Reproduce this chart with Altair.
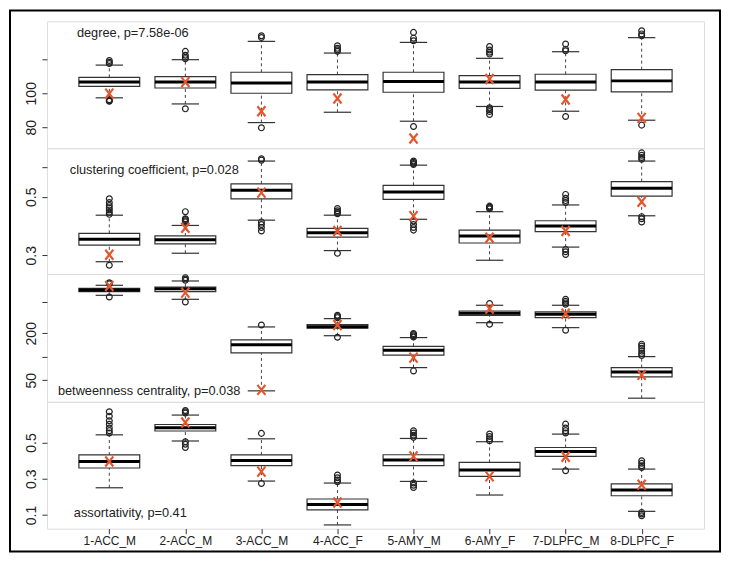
import json
import altair as alt
import pandas as pd

groups = ["1-ACC_M", "2-ACC_M", "3-ACC_M", "4-ACC_F", "5-AMY_M", "6-AMY_F", "7-DLPFC_M", "8-DLPFC_F"]

# ---- degree ----
deg_q1 = [104.1, 103.1, 100.0, 102.0, 100.6, 102.9, 101.8, 100.8]
deg_med = [106.6, 106.6, 106.0, 106.6, 107.0, 106.6, 106.6, 107.3]
deg_q3 = [109.4, 109.8, 112.4, 111.0, 112.4, 110.4, 111.2, 113.9]
deg_lo = [97.3, 93.7, 82.7, 88.8, 83.5, 92.2, 89.4, 84.1]
deg_hi = [116.6, 119.8, 130.6, 123.7, 130.0, 120.6, 124.5, 132.8]
deg_out = [[117.5, 118.3, 119.3, 96.2, 95.6, 95.3],
           [120.4, 121.2, 122.4, 124.7, 90.8],
           [132.9, 133.9, 79.6],
           [124.7, 125.6, 126.5, 128.0],
           [131.0, 132.5, 135.9, 80.4],
           [123.1, 124.2, 125.5, 127.6, 91.4, 90.3, 89.2, 87.5],
           [125.1, 126.0, 129.0, 86.3],
           [133.9, 135.0, 136.9, 81.2]]
deg_obs = [99.8, 106.6, 89.4, 96.9, 73.3, 108.4, 96.3, 85.5]

# ---- clustering coefficient ----
cc_q1 = [0.335, 0.339, 0.493, 0.362, 0.491, 0.342, 0.381, 0.502]
cc_med = [0.355, 0.353, 0.522, 0.377, 0.516, 0.366, 0.400, 0.529]
cc_q3 = [0.375, 0.366, 0.544, 0.392, 0.539, 0.386, 0.418, 0.552]
cc_lo = [0.278, 0.307, 0.420, 0.316, 0.423, 0.283, 0.328, 0.435]
cc_hi = [0.437, 0.402, 0.622, 0.437, 0.608, 0.449, 0.472, 0.622]
cc_out = [[0.440, 0.447, 0.455, 0.462, 0.470, 0.480, 0.493, 0.266],
          [0.414, 0.418, 0.422, 0.425, 0.449],
          [0.625, 0.630, 0.414, 0.405, 0.395, 0.383],
          [0.442, 0.447, 0.452, 0.460, 0.307],
          [0.610, 0.614, 0.618, 0.622, 0.417, 0.405, 0.395, 0.386],
          [0.459, 0.462, 0.465, 0.468],
          [0.480, 0.487, 0.495, 0.508, 0.320, 0.312, 0.303],
          [0.628, 0.634, 0.642, 0.650, 0.432, 0.425, 0.414]]
cc_obs = [0.302, 0.394, 0.514, 0.383, 0.434, 0.360, 0.383, 0.483]

# ---- betweenness centrality (log axis) ----
bc_q1 = [682, 682, 112, 232, 105, 340, 317, 55.1]
bc_med = [717, 745, 142, 243, 121, 361, 350, 63.9]
bc_q3 = [754, 784, 164, 258, 136, 386, 375, 72.5]
bc_lo = [613, 545, 36.5, 186, 72.5, 273, 236, 29.4]
bc_hi = [824, 936, 241, 308, 176, 457, 457, 100.3]
bc_out = [[860, 890, 583],
          [954, 990, 1032, 503],
          [255],
          [317, 328, 340, 178],
          [179, 186, 193, 198, 65.8],
          [480, 261],
          [470, 490, 515, 545, 219],
          [104, 110, 118, 128, 137, 145]]
bc_obs = [807, 663, 37.6, 255, 97.4, 413, 356, 58.4]

# ---- assortativity ----
as_q1 = [0.359, 0.563, 0.372, 0.128, 0.372, 0.313, 0.423, 0.206]
as_med = [0.395, 0.581, 0.401, 0.158, 0.403, 0.348, 0.450, 0.238]
as_q3 = [0.431, 0.599, 0.431, 0.188, 0.432, 0.390, 0.472, 0.271]
as_lo = [0.250, 0.508, 0.287, 0.045, 0.285, 0.210, 0.353, 0.120]
as_hi = [0.542, 0.651, 0.520, 0.276, 0.522, 0.504, 0.546, 0.353]
as_out = [[0.552, 0.565, 0.580, 0.600, 0.620, 0.645, 0.669],
          [0.662, 0.669, 0.676, 0.504, 0.490, 0.472],
          [0.550, 0.274],
          [0.283, 0.293, 0.305, 0.320],
          [0.528, 0.540, 0.552, 0.564, 0.276, 0.264, 0.252],
          [0.509, 0.520, 0.533, 0.546],
          [0.552, 0.565, 0.580, 0.601, 0.344],
          [0.362, 0.372, 0.385, 0.399, 0.114, 0.105, 0.096]]
as_obs = [0.395, 0.610, 0.339, 0.169, 0.423, 0.313, 0.421, 0.267]

titles = ["degree, p=7.58e-06", "clustering coefficient, p=0.028",
          "betweenness centrality, p=0.038", "assortativity, p=0.41"]

FONT = "Liberation Sans"
RED = "#e4572e"
W = 658


def panel(q1, med, q3, lo, hi, outs, obs, title, tx, ty, ydom, ytype, yticks,
          yhide, yfmt, height, bottom=False, frame=False):
    pos = list(range(1, len(groups) + 1))
    bdf = pd.DataFrame({"pos": pos, "q1": q1, "med": med, "q3": q3,
                        "lo": lo, "hi": hi, "obs": obs})
    odf = pd.DataFrame([{"pos": i + 1, "v": v} for i, vs in enumerate(outs) for v in vs])
    tdf = pd.DataFrame({"tx": [tx], "ty": [ty], "label": [title]})

    xscale = alt.Scale(domain=[0.18, 8.82], nice=False, zero=False)
    if bottom:
        xaxis = alt.Axis(values=pos, labelExpr=json.dumps(groups) + "[datum.value - 1]",
                         tickSize=5, labelFontSize=12, labelPadding=2, labelAngle=0,
                         domain=False, grid=False, title=None, labelFont=FONT,
                         labelColor="#222", tickColor="#333")
    else:
        xaxis = None
    yscale = alt.Scale(domain=ydom, type=ytype, nice=False, zero=False)
    yaxis = alt.Axis(values=yticks, format=yfmt,
                     labelExpr="indexof(" + json.dumps(yhide) + ", datum.value) >= 0 ? '' : datum.label",
                     labelAngle=270, labelAlign="center", labelBaseline="bottom",
                     labelFontSize=14, labelPadding=3, tickSize=5, domain=False,
                     grid=False, title=None, labelFont=FONT, labelColor="#222",
                     tickColor="#333")

    base = alt.Chart(bdf)
    X = lambda f: alt.X(f, scale=xscale, axis=xaxis)
    Y = lambda f: alt.Y(f, scale=yscale, axis=yaxis)

    whisk_up = base.mark_rule(color="#444", strokeDash=[3, 3], strokeWidth=1).encode(
        x=X("pos:Q"), y=Y("q3:Q"), y2="hi:Q")
    whisk_dn = base.mark_rule(color="#444", strokeDash=[3, 3], strokeWidth=1).encode(
        x=X("pos:Q"), y=Y("lo:Q"), y2="q1:Q")
    caps_hi = base.transform_calculate(a="datum.pos - 0.18", b="datum.pos + 0.18").mark_rule(
        color="#333", strokeWidth=1.2).encode(x=X("a:Q"), x2="b:Q", y=Y("hi:Q"))
    caps_lo = base.transform_calculate(a="datum.pos - 0.18", b="datum.pos + 0.18").mark_rule(
        color="#333", strokeWidth=1.2).encode(x=X("a:Q"), x2="b:Q", y=Y("lo:Q"))
    boxes = base.transform_calculate(a="datum.pos - 0.4", b="datum.pos + 0.4").mark_rect(
        fill="white", stroke="#333", strokeWidth=1.2).encode(
        x=X("a:Q"), x2="b:Q", y=Y("q1:Q"), y2="q3:Q")
    meds = base.transform_calculate(a="datum.pos - 0.4", b="datum.pos + 0.4").mark_rule(
        color="black", strokeWidth=3).encode(x=X("a:Q"), x2="b:Q", y=Y("med:Q"))
    outl = alt.Chart(odf).mark_point(shape="circle", size=34, filled=False,
                                     color="#222", strokeWidth=1.2, opacity=1).encode(
        x=X("pos:Q"), y=Y("v:Q"))
    crosses = base.mark_point(shape="M-0.8,-1L0.8,1M0.8,-1L-0.8,1", size=100, filled=False,
                              color=RED, strokeWidth=2.2, opacity=1).encode(
        x=X("pos:Q"), y=Y("obs:Q"))
    text = alt.Chart(tdf).mark_text(align="left", baseline="middle", fontSize=12.8,
                                    font=FONT, color="#222").encode(
        x=X("tx:Q"), y=Y("ty:Q"), text="label:N")

    layers = [whisk_up, whisk_dn, caps_hi, caps_lo, boxes, meds, outl, crosses, text]
    if frame:
        fr = alt.Chart(alt.Data(values=[{"k": 1}])).mark_rect(
            fill="transparent", stroke="black", strokeWidth=2).encode(
            x=alt.value(-37), x2=alt.value(W + 16), y=alt.value(-11), y2=alt.value(531))
        layers.append(fr)
    return alt.layer(*layers).properties(width=W, height=height)


p1 = panel(deg_q1, deg_med, deg_q3, deg_lo, deg_hi, deg_out, deg_obs, titles[0],
           0.574, 135.3, [67.6, 142.4], "linear", [80, 100, 120], [120], "d", 127, frame=True)
p2 = panel(cc_q1, cc_med, cc_q3, cc_lo, cc_hi, cc_out, cc_obs, titles[1],
           0.48, 0.591, [0.236, 0.666], "linear", [0.3, 0.5, 0.6], [0.6], ".1f", 126)
p3 = panel(bc_q1, bc_med, bc_q3, bc_lo, bc_hi, bc_out, bc_obs, titles[2],
           0.324, 36.5, [26.4, 1150], "log", [50, 100, 200, 500], [100, 500], "d", 128)
p4 = panel(as_q1, as_med, as_q3, as_lo, as_hi, as_out, as_obs, titles[3],
           0.534, 0.109, [0.0245, 0.724], "linear", [0.1, 0.3, 0.5], [], ".1f", 127,
           bottom=True)

chart = alt.vconcat(p1, p2, p3, p4, spacing=0, bounds="flush").properties(
    padding=0).configure_view(stroke="#666", strokeWidth=1.2).configure(background="white")

chart.save("out.html", embed_options={"renderer": "svg", "actions": False})
